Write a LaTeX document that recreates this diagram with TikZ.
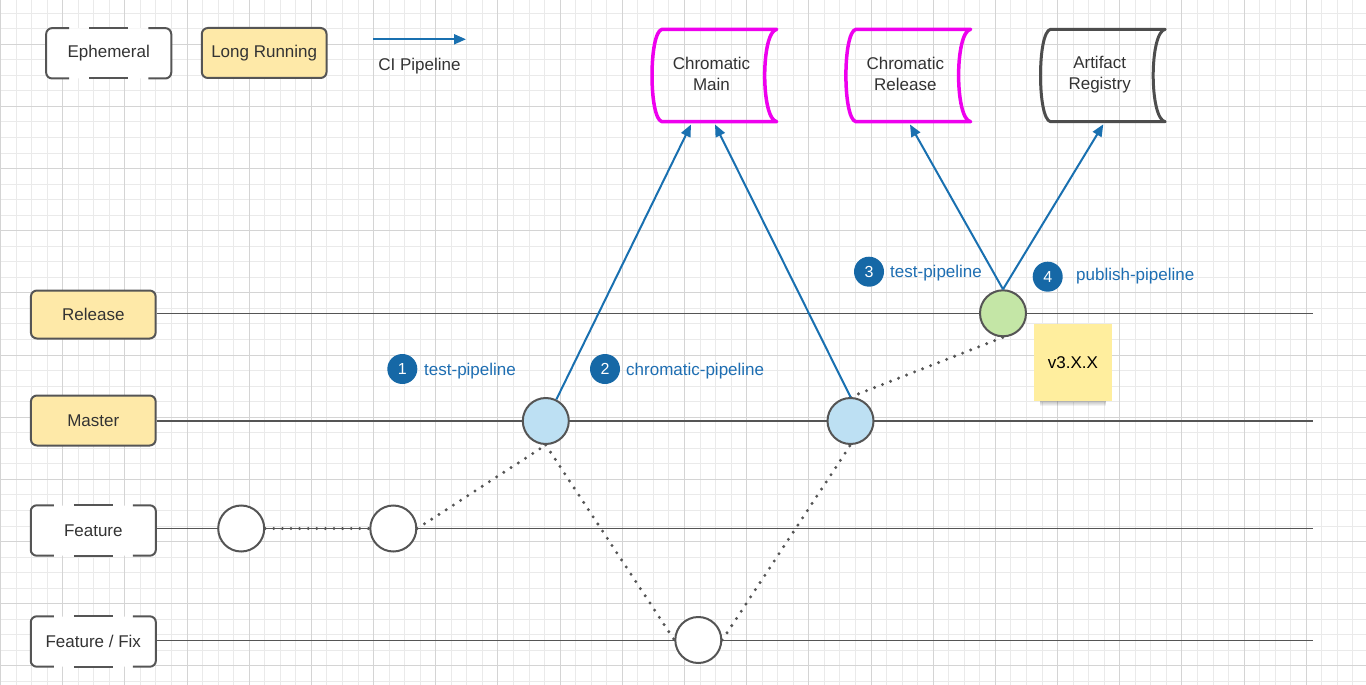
\documentclass[tikz,border=0pt]{standalone}
\usepackage{fontspec}
\setmainfont{Liberation Sans}
\usetikzlibrary{arrows.meta}
\definecolor{gridminor}{RGB}{234,234,234}
\definecolor{gridmajor}{RGB}{212,212,212}
\definecolor{ink}{RGB}{85,85,85}
\definecolor{txt}{RGB}{51,51,51}
\definecolor{lr}{RGB}{254,233,168}
\definecolor{notey}{RGB}{255,238,158}
\definecolor{cib}{RGB}{25,112,176}
\definecolor{numb}{RGB}{22,104,166}
\definecolor{lbl}{RGB}{30,110,178}
\definecolor{mag}{RGB}{238,0,238}
\definecolor{reg}{RGB}{77,77,77}
\definecolor{mblue}{RGB}{189,224,243}
\definecolor{rgreen}{RGB}{196,230,166}
\tikzset{
 every node/.style={font=\fontsize{17}{21}\selectfont, text=txt},
 lanebox/.style={rectangle, rounded corners=6pt, minimum width=124.7pt, minimum height=50pt, inner sep=0pt},
 longbox/.style={lanebox, draw=ink, line width=2pt, fill=lr},
 ephbox/.style={lanebox, fill=white},
 framepart/.style={draw=ink, line width=2pt, rounded corners=6pt},
 lane/.style={draw=ink, line width=1.5pt},
 commit/.style={circle, draw=ink, line width=2pt, minimum size=46pt, inner sep=0pt, fill=white},
 dots/.style={draw=ink, line width=3.3pt, line cap=round, dash pattern=on 0pt off 8.6pt},
 ci/.style={draw=cib, line width=2pt, -{Triangle[length=12pt,width=10pt]}},
 numdot/.style={circle, fill=numb, minimum size=30pt, inner sep=0pt, text=white, font=\fontsize{16}{19}\selectfont},
 plabel/.style={anchor=west, inner sep=0pt, text=lbl},
 storetext/.style={align=center, inner sep=0pt},
 magline/.style={draw=mag, line width=3.5pt, line join=round},
 regline/.style={draw=reg, line width=3pt, line join=round},
}
\newcommand\ephframe[1]{%
 \draw[framepart] ([xshift=23pt]#1.north west) -- (#1.north west) -- (#1.south west) -- ([xshift=23pt]#1.south west);
 \draw[framepart] ([xshift=-23pt]#1.north east) -- (#1.north east) -- (#1.south east) -- ([xshift=-23pt]#1.south east);
 \draw[framepart] ([xshift=-19.5pt]#1.north) -- ([xshift=19.5pt]#1.north);
 \draw[framepart] ([xshift=-19.5pt]#1.south) -- ([xshift=19.5pt]#1.south);
}
% #1 = x of left bulge
\newcommand\storeshape[2]{%
 \draw[#2] ({#1+10},29.3) -- ({#1+124.7},29.3) .. controls ({#1+108.7},32) and ({#1+108.7},119) .. ({#1+124.7},121.7) -- ({#1+10},121.7) .. controls ({#1-3.33},119) and ({#1-3.33},32) .. ({#1+10},29.3) -- cycle;
}
\begin{document}
\begin{tikzpicture}[x=1pt,y=-1pt]
\useasboundingbox (0,0) rectangle (1366,685);
\fill[white] (0,0) rectangle (1366,685);
% grid
\foreach \i in {0,...,87} {\draw[gridminor, line width=1pt] ({round(15.545*\i)+0.5},0) -- ({round(15.545*\i)+0.5},685);}
\foreach \j in {0,...,43} {\draw[gridminor, line width=1pt] (0,{round(12.6+15.545*\j)+0.5}) -- (1366,{round(12.6+15.545*\j)+0.5});}
\foreach \i in {0,4,...,84} {\draw[gridmajor, line width=1pt] ({round(15.545*\i)+0.5},0) -- ({round(15.545*\i)+0.5},685);}
\foreach \j in {2,6,...,42} {\draw[gridmajor, line width=1pt] (0,{round(12.6+15.545*\j)+0.5}) -- (1366,{round(12.6+15.545*\j)+0.5});}

% legend
\node[ephbox] (leph) at (108.7,53.3) {Ephemeral};
\ephframe{leph}
\node[longbox] (llong) at (264.2,53) {Long Running};
\coordinate (ciA) at (373,39.3);
\coordinate (ciB) at (466,39.3);
\draw[ci] (ciA) -- (ciB);
\node (lci) at (419.5,66.5) {CI Pipeline};

% storage
\storeshape{652}{magline}
\node[storetext] (cmain) at (711.5,74.2) {Chromatic\\Main};
\storeshape{845.9}{magline}
\node[storetext] (crel) at (905.3,74.2) {Chromatic\\Release};
\storeshape{1040.5}{regline}
\node[storetext] (areg) at (1099.7,74.2) {Artifact\\Registry};
\coordinate (cmA) at (691,124.5);
\coordinate (cmB) at (715,124.5);
\coordinate (crA) at (910,124.5);
\coordinate (arA) at (1103.3,124.3);

% lanes
\node[longbox, minimum height=48pt] (brel) at (93.3,314.5) {Release};
\node[longbox] (bmas) at (93.3,420.5) {Master};
\node[ephbox] (bfeat) at (93.3,530.5) {Feature};
\ephframe{bfeat}
\node[ephbox] (bfix) at (93.3,641.5) {Feature / Fix};
\ephframe{bfix}
\coordinate (erel) at (1313,313.3);
\coordinate (emas) at (1313,421);
\coordinate (efeat) at (1313,528.5);
\coordinate (efix) at (1313,640.5);
\draw[lane] (brel.east |- erel) -- (erel);
\draw[lane] (bmas.east |- emas) -- (emas);
\draw[lane] (bfeat.east |- efeat) -- (efeat);
\draw[lane] (bfix.east |- efix) -- (efix);

% sticky note
\foreach \k in {1,...,6} {\fill[black, opacity=0.05] (1040,395) rectangle (1106,{400+\k});}
\node[fill=notey, minimum width=77.4pt, minimum height=77pt, inner sep=0pt, text=black] (note) at (1073,362.5) {v3.X.X};

% commits
\node[commit] (c1) at (241.2,528.5) {};
\node[commit] (c2) at (393.3,528.5) {};
\node[commit, fill=mblue] (m1) at (545.8,421) {};
\node[commit, fill=mblue] (m2) at (850.5,421) {};
\node[commit, fill=rgreen] (r1) at (1003,313.3) {};
\node[commit] (f1) at (698.3,640) {};

% merges
\draw[dots] (c1.east) -- (c2.west);
\draw[dots] (c2.east) -- (m1.south);
\draw[dots] (m1.south) -- (f1.west);
\draw[dots] (f1.east) -- (m2.south);
\draw[dots] (m2.north) -- (r1.south);

% CI pipelines
\draw[ci] (m1) -- (cmA);
\draw[ci] (m2.north) -- (cmB);
\draw[ci] (r1.north) -- (crA);
\draw[ci] (r1.north) -- (arA);

% labels
\node[numdot] (n1) at (402.3,369) {1};
\node[plabel] (t1) at (424,371) {test-pipeline};
\node[numdot] (n2) at (605,369) {2};
\node[plabel] (t2) at (626,371) {chromatic-pipeline};
\node[numdot] (n3) at (869,271.7) {3};
\node[plabel] (t3) at (890,273.5) {test-pipeline};
\node[numdot] (n4) at (1047.7,276.7) {4};
\node[plabel] (t4) at (1076,276) {publish-pipeline};
\end{tikzpicture}
\end{document}
